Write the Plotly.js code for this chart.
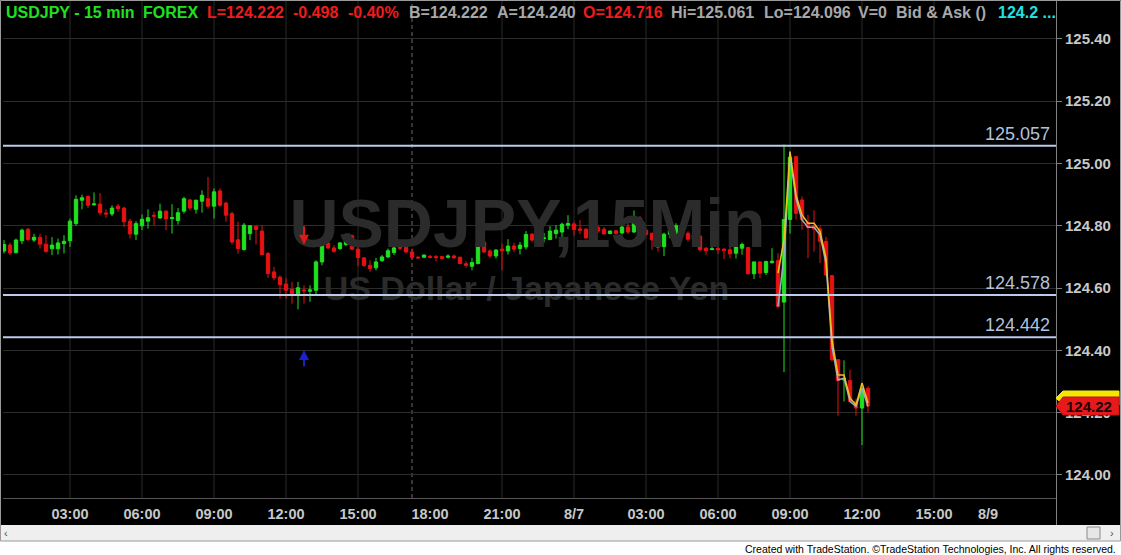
<!DOCTYPE html>
<html><head><meta charset="utf-8">
<script src="https://cdn.plot.ly/plotly-3.0.1.min.js"></script>
<style>html,body{margin:0;padding:0;background:#000;}#chart{width:1121px;height:555px;}</style>
</head><body><div id="chart"></div>
<script>
// ---------------- DATA ----------------
const symbolTitle = 'USDJPY,15Min';
const symbolName = 'US Dollar / Japanese Yen';
const startTime = '2015-08-06T00:15:00';   // first 15-min bar
const opens = [124.719,124.738,124.714,124.752,124.789,124.754,124.763,124.741,124.726,124.726,124.743,124.752,124.807,124.882,124.894,124.867,124.870,124.841,124.838,124.863,
124.857,124.815,124.773,124.800,124.815,124.834,124.825,124.847,124.823,124.817,124.847,124.883,124.853,124.879,124.887,124.863,124.912,124.873,124.839,124.755,
124.724,124.775,124.798,124.783,124.711,124.652,124.635,124.613,124.596,124.582,124.594,124.590,124.593,124.684,124.745,124.729,124.727,124.740,124.768,124.725,
124.697,124.673,124.665,124.688,124.700,124.714,124.732,124.731,124.716,124.699,124.699,124.702,124.701,124.701,124.699,124.703,124.699,124.678,124.670,124.679,
124.748,124.719,124.703,124.725,124.719,124.735,124.727,124.732,124.773,124.764,124.759,124.756,124.775,124.780,124.802,124.806,124.790,124.789,124.761,124.795,
124.789,124.775,124.784,124.777,124.796,124.780,124.825,124.786,124.776,124.758,124.733,124.773,124.776,124.800,124.776,124.757,124.767,124.728,124.724,124.727,
124.725,124.723,124.712,124.728,124.730,124.646,124.684,124.650,124.682,124.688,124.555,124.820,125.022,124.883,124.810,124.800,124.790,124.750,124.640,124.370,
124.305,124.303,124.235,124.215,124.278];
const highs = [124.754,124.746,124.759,124.791,124.793,124.774,124.774,124.770,124.764,124.759,124.770,124.823,124.898,124.900,124.898,124.907,124.905,124.853,124.866,124.870,
124.861,124.823,124.815,124.836,124.853,124.845,124.871,124.850,124.869,124.857,124.893,124.887,124.884,124.914,124.957,124.920,124.920,124.877,124.845,124.813,
124.809,124.802,124.802,124.802,124.716,124.668,124.641,124.631,124.620,124.620,124.609,124.609,124.689,124.748,124.768,124.738,124.748,124.775,124.772,124.732,
124.700,124.689,124.697,124.706,124.727,124.735,124.738,124.735,124.727,124.703,124.708,124.706,124.706,124.703,124.708,124.708,124.701,124.686,124.697,124.750,
124.754,124.725,124.725,124.743,124.757,124.746,124.748,124.783,124.777,124.770,124.777,124.799,124.802,124.810,124.834,124.813,124.818,124.793,124.800,124.802,
124.796,124.785,124.786,124.810,124.823,124.849,124.831,124.791,124.778,124.760,124.778,124.803,124.808,124.803,124.782,124.774,124.769,124.731,124.755,124.739,
124.728,124.739,124.739,124.746,124.733,124.685,124.686,124.688,124.728,124.712,125.061,125.038,125.025,124.894,124.835,124.850,124.800,124.765,124.642,124.372,
124.368,124.338,124.245,124.295,124.285];
const lows = [124.711,124.706,124.711,124.741,124.750,124.748,124.727,124.713,124.706,124.708,124.711,124.732,124.800,124.853,124.857,124.866,124.834,124.826,124.831,124.845,
124.796,124.759,124.754,124.786,124.791,124.802,124.823,124.786,124.775,124.804,124.839,124.850,124.839,124.842,124.855,124.823,124.861,124.813,124.740,124.711,
124.720,124.754,124.740,124.706,124.633,124.625,124.566,124.566,124.550,124.532,124.550,124.556,124.575,124.673,124.725,124.713,124.722,124.735,124.722,124.670,
124.668,124.652,124.657,124.684,124.697,124.706,124.722,124.711,124.693,124.695,124.697,124.695,124.686,124.692,124.695,124.695,124.676,124.665,124.657,124.676,
124.713,124.697,124.695,124.657,124.708,124.716,124.708,124.724,124.748,124.742,124.746,124.754,124.759,124.754,124.789,124.768,124.773,124.759,124.759,124.777,
124.772,124.773,124.772,124.772,124.774,124.778,124.775,124.768,124.723,124.717,124.703,124.760,124.753,124.771,124.749,124.744,124.717,124.707,124.721,124.710,
124.693,124.696,124.695,124.707,124.644,124.629,124.632,124.642,124.678,124.535,124.330,124.775,124.820,124.787,124.696,124.717,124.680,124.638,124.364,124.190,
124.236,124.230,124.190,124.096,124.200];
const closes = [124.740,124.713,124.754,124.786,124.756,124.763,124.741,124.718,124.738,124.745,124.750,124.815,124.885,124.890,124.866,124.870,124.842,124.838,124.857,124.855,
124.813,124.774,124.807,124.821,124.826,124.831,124.847,124.823,124.826,124.842,124.887,124.857,124.882,124.898,124.863,124.909,124.866,124.834,124.748,124.727,
124.802,124.800,124.788,124.708,124.647,124.633,124.611,124.593,124.582,124.601,124.591,124.594,124.684,124.745,124.729,124.718,124.745,124.770,124.725,124.698,
124.673,124.663,124.684,124.700,124.720,124.729,124.728,124.716,124.699,124.697,124.706,124.699,124.698,124.695,124.703,124.697,124.679,124.673,124.682,124.745,
124.716,124.703,124.722,124.720,124.735,124.725,124.738,124.772,124.754,124.748,124.761,124.783,124.786,124.805,124.807,124.788,124.786,124.761,124.793,124.783,
124.774,124.783,124.775,124.796,124.780,124.823,124.780,124.772,124.755,124.731,124.773,124.785,124.800,124.776,124.757,124.771,124.723,124.720,124.726,124.723,
124.721,124.710,124.733,124.740,124.646,124.684,124.648,124.685,124.686,124.541,124.820,125.020,124.840,124.820,124.795,124.790,124.750,124.642,124.370,124.303,
124.310,124.236,124.215,124.275,124.222];

// two smoothing lines drawn over the last bars
const maStart = '2015-08-07T08:30:00';
const maFast = [124.648,124.755,125.038,124.899,124.835,124.808,124.808,124.782,124.696,124.434,124.321,124.321,124.247,124.225,124.295,124.231];
const maSlow = [124.541,124.700,125.022,124.888,124.819,124.795,124.795,124.771,124.680,124.412,124.305,124.311,124.236,124.220,124.279,124.220];

// horizontal price levels
const levels = [125.057, 124.578, 124.442];

// strategy signal arrows: bar time, tail price, head price
const signalTimes = ['2015-08-06T12:45:00', '2015-08-06T12:45:00'];
const signalFrom  = [124.803, 124.344];
const signalTo    = [124.739, 124.401];
const signalColors = ['#e01818', '#1a22c8'];

// axis ticks
const tickLabels = ['03:00','06:00','09:00','12:00','15:00','18:00','21:00','8/7','03:00','06:00','09:00','12:00','15:00','8/9'];
const tickTimes = ['2015-08-06T03:00:00','2015-08-06T06:00:00','2015-08-06T09:00:00','2015-08-06T12:00:00','2015-08-06T15:00:00','2015-08-06T18:00:00','2015-08-06T21:00:00',
  '2015-08-07T00:00:00','2015-08-07T03:00:00','2015-08-07T06:00:00','2015-08-07T09:00:00','2015-08-07T12:00:00','2015-08-07T15:00:00','2015-08-09T17:15:00'];
const gridTimes = ['2015-08-06T03:00:00','2015-08-06T06:00:00','2015-08-06T09:00:00','2015-08-06T12:00:00','2015-08-06T15:00:00','2015-08-06T21:00:00',
  '2015-08-07T00:00:00','2015-08-07T03:00:00','2015-08-07T06:00:00','2015-08-07T09:00:00','2015-08-07T12:00:00','2015-08-07T15:00:00'];
const sessionBreaks = ['2015-08-06T17:15:00'];
const weekendStart = '2015-08-09T00:00:00';
const weekendBars = 192;
const priceTicks = [124.0,124.2,124.4,124.6,124.8,125.0,125.2,125.4];
const lastPrice = 124.22;

// header quote line
const header = [
  ['USDJPY - 15 min', 4, '#20e020'], ['FOREX', 141, '#20e020'],
  ['L=124.222', 205, '#ee1c1c'], ['-0.498', 291, '#ee1c1c'], ['-0.40%', 346, '#ee1c1c'],
  ['B=124.222', 407, '#a8a8a8'], ['A=124.240', 495, '#a8a8a8'],
  ['O=124.716', 581, '#ee1c1c'], ['Hi=125.061', 669, '#a8a8a8'], ['Lo=124.096', 762, '#a8a8a8'],
  ['V=0', 856, '#a8a8a8'], ['Bid &amp; Ask ()', 894, '#a8a8a8'], ['124.2 ...', 996, '#20e0e0']
];
const footerText = 'Created with TradeStation. \u00A9TradeStation Technologies, Inc. All rights reserved.';

// ---------------- LAYOUT HELPERS ----------------
const W = 1121, H = 555, PL = 3, PR = 1056, PT = 0, PB = 498;
const BAR0 = 4, STEP = 6;             // pixel centre of first bar, bar spacing
const px = x => (x - PL) / (PR - PL);
const py = y => (PB - y) / (PB - PT);
const barIndex = t => {
  let n = (Date.parse(t) - Date.parse(startTime)) / 900000;
  if (Date.parse(t) >= Date.parse(weekendStart)) n -= weekendBars;
  return n;
};
const xRange = [(PL - BAR0) / STEP, (PR - BAR0) / STEP];
const yRange = [123.926, 125.525];
const xOfPx = p => xRange[0] + (p - PL) / (PR - PL) * (xRange[1] - xRange[0]);
const yOfPx = p => yRange[1] - (p - PT) / (PB - PT) * (yRange[1] - yRange[0]);

const idx = opens.map((_, i) => i);
const FONT = 'Liberation Sans, Arial, sans-serif';

const traces = [
  { type: 'scatter', mode: 'text', x: [xOfPx(527.5), xOfPx(526.5)], y: [yOfPx(230), yOfPx(291)],
    text: [symbolTitle, symbolName], textposition: 'middle center',
    textfont: { family: FONT, size: [68, 34], color: '#2b2b2b', weight: 'bold' },
    hoverinfo: 'skip', showlegend: false, cliponaxis: false },
  { type: 'candlestick', x: idx, open: opens, high: highs, low: lows, close: closes,
    increasing: { line: { color: '#1fe21f', width: 1 }, fillcolor: '#1fe21f' },
    decreasing: { line: { color: '#e81212', width: 1 }, fillcolor: '#e81212' },
    whiskerwidth: 0, hoverinfo: 'skip', showlegend: false },
  { type: 'scatter', mode: 'lines', x: maSlow.map((_, i) => barIndex(maStart) + i), y: maSlow,
    line: { color: '#8fb4c8', width: 1.5 }, hoverinfo: 'skip', showlegend: false },
  { type: 'scatter', mode: 'lines', x: maFast.map((_, i) => barIndex(maStart) + i), y: maFast,
    line: { color: '#f0c020', width: 1.5 }, hoverinfo: 'skip', showlegend: false }
];

const shapes = [];
gridTimes.forEach(t => shapes.push({ type: 'line', xref: 'x', yref: 'paper', x0: barIndex(t), x1: barIndex(t), y0: 0, y1: 1,
  line: { color: '#2a2a2a', width: 1 }, layer: 'below' }));
sessionBreaks.forEach(t => shapes.push({ type: 'line', xref: 'x', yref: 'paper', x0: barIndex(t), x1: barIndex(t), y0: 0, y1: 1,
  line: { color: '#6a6a6a', width: 1, dash: '4px,3px' }, layer: 'below' }));
levels.forEach(v => shapes.push({ type: 'line', xref: 'paper', yref: 'y', x0: 0, x1: 1, y0: v, y1: v,
  line: { color: '#bccbea', width: 2 }, layer: 'above' }));
// right axis separator through the header and date area
shapes.push({ type: 'line', xref: 'paper', yref: 'paper', x0: px(1056.5), x1: px(1056.5), y0: py(0), y1: py(525), line: { color: '#808080', width: 1 } });
// scrollbar and footer band
shapes.push({ type: 'rect', xref: 'paper', yref: 'paper', x0: px(0), x1: px(1121), y0: py(525), y1: py(541), fillcolor: '#efefef', line: { width: 0 } });
shapes.push({ type: 'rect', xref: 'paper', yref: 'paper', x0: px(0), x1: px(1121), y0: py(541), y1: py(555), fillcolor: '#ffffff', line: { width: 0 } });
shapes.push({ type: 'rect', xref: 'paper', yref: 'paper', x0: px(1087), x1: px(1100), y0: py(527), y1: py(539), fillcolor: '#e6e6e6', line: { color: '#8a8a8a', width: 1 } });
// outer frame
shapes.push({ type: 'rect', xref: 'paper', yref: 'paper', x0: px(0.5), x1: px(1120.5), y0: py(0.5), y1: py(541), line: { color: '#9a9a9a', width: 1 } });
// last price tags (ask behind, last in front)
const tagPath = (top, bot, tip) => `M ${px(1056)} ${py(tip)} L ${px(1063)} ${py(top)} L ${px(1119)} ${py(top)} L ${px(1119)} ${py(bot)} L ${px(1063)} ${py(bot)} Z`;
shapes.push({ type: 'path', xref: 'paper', yref: 'paper', path: tagPath(391, 405, 398), fillcolor: '#f4e800', line: { color: '#f4e800', width: 1 } });
shapes.push({ type: 'path', xref: 'paper', yref: 'paper', path: tagPath(397, 415, 406), fillcolor: '#e61a1a', line: { color: '#c01010', width: 1 } });

const annotations = [];
header.forEach(([t, x, c]) => annotations.push({ xref: 'paper', yref: 'paper', x: px(x), y: py(13), xanchor: 'left', yanchor: 'middle',
  text: t, showarrow: false, font: { family: FONT, size: 16, color: c, weight: 'bold' } }));
levels.forEach(v => annotations.push({ xref: 'paper', yref: 'y', x: px(1052), y: v, xanchor: 'right', yanchor: 'bottom',
  text: v.toFixed(3), showarrow: false, font: { family: FONT, size: 18, color: '#b2c2dc' } }));
signalTimes.forEach((t, i) => annotations.push({ xref: 'x', yref: 'y', axref: 'x', ayref: 'y', x: barIndex(t), y: signalTo[i],
  ax: barIndex(t), ay: signalFrom[i], text: '', showarrow: true, arrowhead: 2, arrowsize: 1, arrowwidth: 2, arrowcolor: signalColors[i] }));
annotations.push({ xref: 'paper', yref: 'paper', x: px(1089), y: py(406), xanchor: 'center', yanchor: 'middle',
  text: lastPrice.toFixed(2), showarrow: false, font: { family: FONT, size: 15, color: '#1a0000', weight: 'bold' } });
annotations.push({ xref: 'paper', yref: 'paper', x: px(6), y: py(533), xanchor: 'center', yanchor: 'middle',
  text: '\u2039', showarrow: false, font: { family: FONT, size: 11, color: '#505050' } });
annotations.push({ xref: 'paper', yref: 'paper', x: px(1112), y: py(533), xanchor: 'center', yanchor: 'middle',
  text: '\u203A', showarrow: false, font: { family: FONT, size: 11, color: '#505050' } });
annotations.push({ xref: 'paper', yref: 'paper', x: px(1118), y: py(548.5), xanchor: 'right', yanchor: 'middle',
  text: footerText, showarrow: false, font: { family: FONT, size: 10.5, color: '#000' } });

const layout = {
  width: W, height: H,
  margin: { l: PL, r: W - PR, t: PT, b: H - PB, pad: 0 },
  paper_bgcolor: '#000', plot_bgcolor: '#000',
  showlegend: false,
  boxgap: 0.2,
  xaxis: { range: xRange, rangeslider: { visible: false }, showgrid: false, zeroline: false,
    tickmode: 'array', tickvals: tickTimes.map(barIndex), ticktext: tickLabels,
    ticks: 'outside', ticklen: 3, tickcolor: '#000',
    tickfont: { family: FONT, size: 14.5, color: '#c8c8c8', weight: 'bold' },
    showline: true, linecolor: '#555', linewidth: 1, fixedrange: true },
  yaxis: { side: 'right', range: yRange, tickmode: 'array', tickvals: priceTicks, ticktext: priceTicks.map(v => v.toFixed(2)),
    showgrid: true, gridcolor: '#2c2c2c', gridwidth: 1, zeroline: false,
    ticks: 'outside', ticklen: 5, tickcolor: '#808080',
    tickfont: { family: FONT, size: 15, color: '#c8c8c8', weight: 'bold' },
    showline: false, fixedrange: true },
  shapes: shapes, annotations: annotations
};

Plotly.newPlot('chart', traces, layout, { displayModeBar: false, staticPlot: true });
</script>
</body></html>
